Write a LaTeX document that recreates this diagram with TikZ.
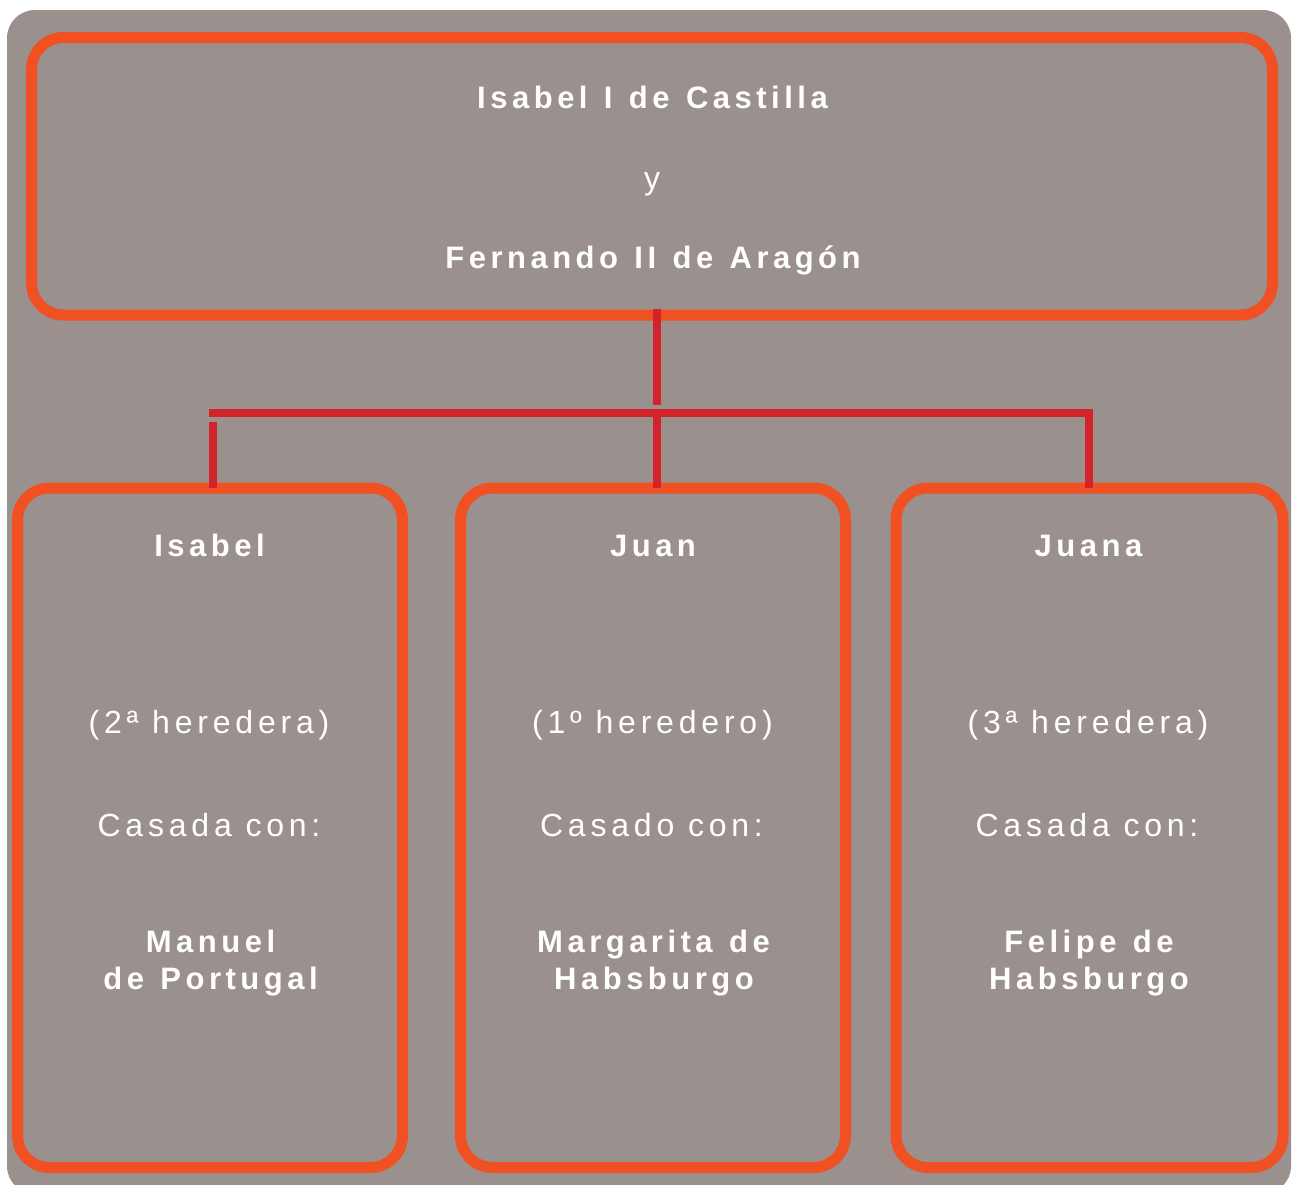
\documentclass[tikz,border=0pt]{standalone}
\usepackage{fontspec}
\setmainfont{Liberation Sans}
\newfontfamily\spacedbold{Liberation Sans}[LetterSpace=14.5, WordSpace=1.25]
\newfontfamily\spacedreg{Liberation Sans}[LetterSpace=15]
\definecolor{bggray}{HTML}{9A918E}
\definecolor{boxorange}{HTML}{F15022}
\definecolor{linkred}{HTML}{D2232A}
\tikzset{
  framebox/.style={draw=boxorange, line width=11pt, rounded corners=32pt, inner sep=0pt, outer sep=0pt},
  boldtxt/.style={text=white, anchor=base, inner sep=0pt, font=\spacedbold\bfseries\fontsize{31}{37}\selectfont},
  regtxt/.style={text=white, anchor=base, inner sep=0pt, font=\spacedreg\fontsize{32}{38}\selectfont},
  link/.style={draw=linkred, line width=8pt}
}
\begin{document}
\begin{tikzpicture}[x=1pt, y=-1pt]
\useasboundingbox (0,0) rectangle (1292,1184);
\begin{scope}
\clip (0,0) rectangle (1292,1184);
\fill[bggray, rounded corners=28pt] (7,10) rectangle (1291,1194);
\end{scope}
% boxes
\node[framebox, minimum width=1241pt, minimum height=277.5pt] (top) at (652,176.25) {};
\node[framebox, minimum width=385pt, minimum height=679.5pt] (isabel) at (210,827.75) {};
\node[framebox, minimum width=385pt, minimum height=679.5pt] (juan) at (653,827.75) {};
\node[framebox, minimum width=387pt, minimum height=679.5pt] (juana) at (1089.5,827.75) {};
% connectors
\coordinate (busL) at (209,413);
\coordinate (busR) at (1089,413);
\coordinate (busM) at (657,413);
\coordinate (dropL) at (213,422);
\draw[link] ([yshift=6pt]top.south -| busM) -- ([yshift=8pt]busM);
\draw[link] (busL) -- (busR) -- (juana.north -| busR);
\draw[link] (dropL) -- (isabel.north -| dropL);
\draw[link] ([yshift=-4pt]busM) -- (juan.north -| busM);
% top texts
\node[boldtxt] (t1) at (652.5,108) {Isabel I de Castilla};
\node[regtxt] (t2) at (652,189) {y};
\node[boldtxt] (t3) at (653,268) {Fernando II de Aragón};
% left
\node[boldtxt] (l1) at (209.5,556) {Isabel};
\node[regtxt] (l2) at (209,733) {(2ª heredera)};
\node[regtxt] (l3) at (209,836) {Casada con:};
\node[boldtxt] (l4) at (210.5,952) {Manuel};
\node[boldtxt] (l5) at (210.5,989) {de Portugal};
% middle
\node[boldtxt] (m1) at (653,556) {Juan};
\node[regtxt] (m2) at (652.5,733) {(1º heredero)};
\node[regtxt] (m3) at (651.5,836) {Casado con:};
\node[boldtxt] (m4) at (653.5,952) {Margarita de};
\node[boldtxt] (m5) at (654,989) {Habsburgo};
% right
\node[boldtxt] (r1) at (1088.5,556) {Juana};
\node[regtxt] (r2) at (1088,733) {(3ª heredera)};
\node[regtxt] (r3) at (1087,836) {Casada con:};
\node[boldtxt] (r4) at (1089,952) {Felipe de};
\node[boldtxt] (r5) at (1089,989) {Habsburgo};
\end{tikzpicture}
\end{document}
